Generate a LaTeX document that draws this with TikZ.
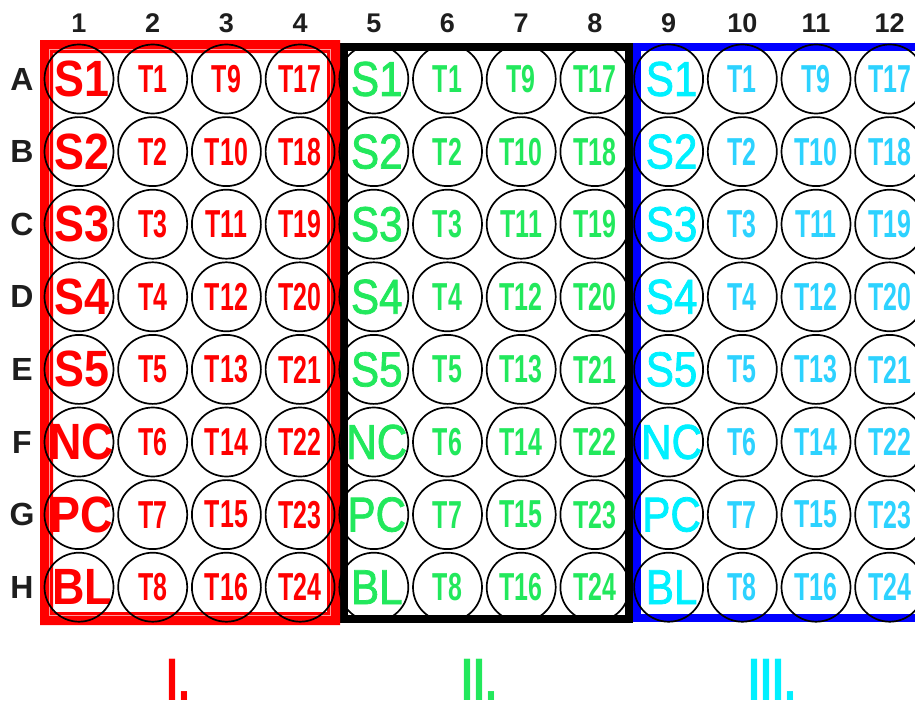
\documentclass[tikz,border=0pt]{standalone}
\usepackage{fontspec}
\setmainfont{Liberation Sans}
\newfontfamily\tagfont{Liberation Sans}[FakeStretch=0.64]
\newfontfamily\ctrlfont{Liberation Sans}[FakeStretch=0.88]
\newfontfamily\ctrlthick{Liberation Sans}[FakeStretch=0.86, FakeBold=1.6]
\newfontfamily\setfont{Liberation Sans}[FakeStretch=0.72]
\usepackage{xcolor}
\definecolor{plateRed}{RGB}{255,0,0}
\definecolor{plateGreen}{RGB}{34,232,92}
\definecolor{plateCyanS}{RGB}{0,240,255}
\definecolor{plateCyanT}{RGB}{45,210,255}
\definecolor{plateBlue}{RGB}{0,0,255}
\definecolor{labelGray}{RGB}{30,30,30}
\tikzset{
  well/.style={circle, draw=black, line width=1.7pt, minimum size=69pt, inner sep=0pt},
  tag/.style={font=\tagfont\bfseries\fontsize{39}{39}\selectfont, inner sep=0pt},
  ctrl/.style={font=\ctrlthick\fontsize{49}{49}\selectfont, inner sep=0pt},
  ctrlbold/.style={font=\ctrlfont\bfseries\fontsize{51}{51}\selectfont, inner sep=0pt},
  rowlab/.style={font=\bfseries\fontsize{32}{32}\selectfont, text=labelGray, inner sep=0pt},
  collab/.style={font=\bfseries\fontsize{27}{27}\selectfont, text=labelGray, inner sep=0pt},
  setlab/.style={font=\setfont\bfseries\fontsize{60}{60}\selectfont, inner sep=0pt}
}
\begin{document}
\begin{tikzpicture}[x=1pt, y=-1pt]
  \useasboundingbox (0,0) rectangle (915,712);

  % plate frames
  \draw[plateBlue, line width=8pt] (637,47) rectangle (925,618);
  \draw[black, line width=8pt] (344,47) rectangle (629,619);
  \fill[plateRed, even odd rule] (40,40) rectangle (340,625) (53,53) rectangle (327,612);
  \draw[white, line width=0.8pt, opacity=0.6] (49.5,49.5) rectangle (330.5,615.5);

  % column and row labels
  \foreach \c in {1,...,12}
    \node[collab] (col\c) at ({79+(\c-1)*73.7}, 23) {\c};
  \foreach \r [count=\ri] in {A,B,C,D,E,F,G,H}
    \node[rowlab] (row\r) at (22, {79+(\ri-1)*72.6}) {\r};

  % well contents, three sets
  \foreach \g/\scol/\tcol/\sstyle in {0/plateRed/plateRed/ctrlbold, 1/plateGreen/plateGreen/ctrl, 2/plateCyanS/plateCyanT/ctrl} {
    \foreach \r/\s [count=\ri] in {A/S1,B/S2,C/S3,D/S4,E/S5,F/NC,G/PC,H/BL} {
      \pgfmathsetmacro\wy{79+(\ri-1)*72.6}
      \pgfmathtruncatemacro\ta{\ri}
      \pgfmathtruncatemacro\tb{\ri+8}
      \pgfmathtruncatemacro\tc{\ri+16}
      \pgfmathtruncatemacro\ka{4*\g+1}
      \pgfmathtruncatemacro\kb{4*\g+2}
      \pgfmathtruncatemacro\kc{4*\g+3}
      \pgfmathtruncatemacro\kd{4*\g+4}
      \coordinate (c\r\ka) at ({79+(\ka-1)*73.7}, \wy);
      \coordinate (c\r\kb) at ({79+(\kb-1)*73.7}, \wy);
      \coordinate (c\r\kc) at ({79+(\kc-1)*73.7}, \wy);
      \coordinate (c\r\kd) at ({79+(\kd-1)*73.7}, \wy);
      \node[\sstyle, text=\scol, xshift=3pt] (s\r\ka) at (c\r\ka) {\s};
      \node[tag, text=\tcol] (t\r\kb) at (c\r\kb) {T\ta};
      \node[tag, text=\tcol] (t\r\kc) at (c\r\kc) {T\tb};
      \node[tag, text=\tcol] (t\r\kd) at (c\r\kd) {T\tc};
    }
  }

  % wells
  \foreach \r [count=\ri] in {A,B,C,D,E,F,G,H}
    \foreach \c in {1,...,12}
      \node[well] (w\r\c) at ({79+(\c-1)*73.7}, {79+(\ri-1)*72.6}) {};

  % set labels
  \node[setlab, text=plateRed] (setI) at (178,680) {I.};
  \node[setlab, text=plateGreen] (setII) at (479,680) {II.};
  \node[setlab, text=plateCyanS] (setIII) at (772,680) {III.};
\end{tikzpicture}
\end{document}
